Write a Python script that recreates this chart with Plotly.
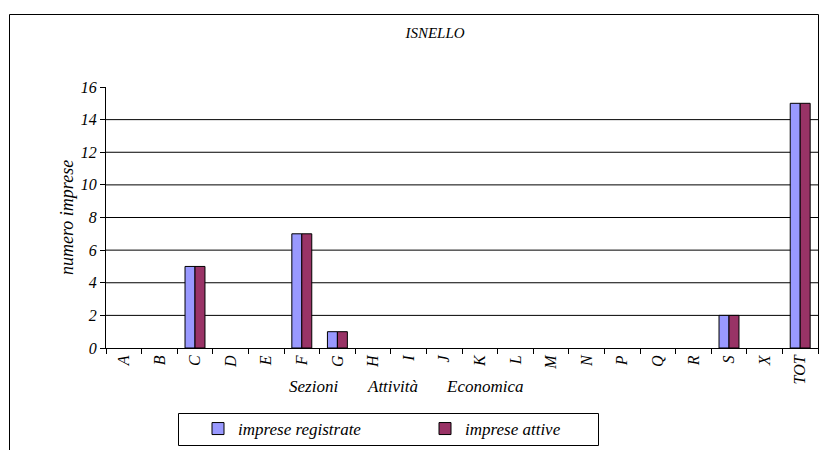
import plotly.graph_objects as go

categories = ["A", "B", "C", "D", "E", "F", "G", "H", "I", "J", "K", "L", "M", "N", "P", "Q", "R", "S", "X", "TOT"]
imprese_registrate = [0, 0, 5, 0, 0, 7, 1, 0, 0, 0, 0, 0, 0, 0, 0, 0, 0, 2, 0, 15]
imprese_attive = [0, 0, 5, 0, 0, 7, 1, 0, 0, 0, 0, 0, 0, 0, 0, 0, 0, 2, 0, 15]
y_ticks = [0, 2, 4, 6, 8, 10, 12, 14, 16]

OFF = 8  # default page body margin
PAGE_W, PAGE_H = 829, 450
W, H = PAGE_W - OFF, PAGE_H - OFF
# plot area in page px
L, R, T, B = 106, 818, 87, 348


def px(x):
    return (x - L) / (R - L)


def py(y):
    return (B - y) / (B - T)


FONT = "Liberation Serif"


def f(size):
    return dict(family=FONT, size=size, color="black")


def it(s):
    return "<i>" + s + "</i>"


def nz(vals):
    # zero-height bars are not drawn (no outline stub on the axis)
    return [v if v else None for v in vals]


fig = go.Figure()
fig.add_trace(go.Bar(x=categories, y=nz(imprese_registrate), name=it("imprese registrate"),
                     marker=dict(color="#9999FF", line=dict(color="black", width=1))))
fig.add_trace(go.Bar(x=categories, y=nz(imprese_attive), name=it("imprese attive"),
                     marker=dict(color="#993366", line=dict(color="black", width=1))))

shapes = []
for v in y_ticks[1:-1]:
    shapes.append(dict(type="line", xref="paper", yref="y", x0=0, x1=1, y0=v, y1=v,
                       line=dict(color="black", width=1), layer="below"))
# outer frame
shapes.append(dict(type="line", xref="paper", yref="paper", x0=px(9.5), x1=px(9.5), y0=py(14.5), y1=py(452),
                   line=dict(color="black", width=1)))
shapes.append(dict(type="line", xref="paper", yref="paper", x0=px(9.5), x1=px(818.5), y0=py(14.5), y1=py(14.5),
                   line=dict(color="black", width=1)))
shapes.append(dict(type="line", xref="paper", yref="paper", x0=px(818.5), x1=px(818.5), y0=py(14.5), y1=py(350),
                   line=dict(color="black", width=1)))
# legend box
shapes.append(dict(type="rect", xref="paper", yref="paper", x0=px(178.5), x1=px(598.5), y0=py(413.5), y1=py(445.5),
                   line=dict(color="black", width=1)))

annotations = [
    dict(text=it("Sezioni"), x=px(313), y=py(386), xref="paper", yref="paper", showarrow=False,
         xanchor="center", yanchor="middle", font=f(17)),
    dict(text=it("Attività"), x=px(392), y=py(386), xref="paper", yref="paper", showarrow=False,
         xanchor="center", yanchor="middle", font=f(17)),
    dict(text=it("Economica"), x=px(484), y=py(386), xref="paper", yref="paper", showarrow=False,
         xanchor="center", yanchor="middle", font=f(17)),
    dict(text=it("numero imprese"), x=px(67), y=py(218), xref="paper", yref="paper", showarrow=False,
         xanchor="center", yanchor="middle", textangle=-90, font=f(18)),
]

fig.update_layout(
    width=W, height=H,
    font=dict(family=FONT, color="black"),
    margin=dict(l=L - OFF, r=PAGE_W - R, t=T - OFF, b=PAGE_H - B, autoexpand=False),
    paper_bgcolor="white", plot_bgcolor="white",
    barmode="group", bargap=0.44, bargroupgap=0,
    title=dict(text=it("ISNELLO"), x=(435 - OFF) / W, y=1 - (33 - OFF) / H, xanchor="center", yanchor="middle",
               font=f(15)),
    xaxis=dict(type="category", showline=True, linecolor="black", linewidth=1,
               ticks="outside", ticklen=5, tickcolor="black", tickson="boundaries",
               tickangle=-90, showgrid=False, tickfont=f(16),
               categoryorder="array", categoryarray=categories,
               tickvals=categories, ticktext=[it(c) for c in categories]),
    yaxis=dict(range=[0, 16], tickvals=y_ticks, ticktext=[it(str(v)) for v in y_ticks],
               showline=True, linecolor="black", linewidth=1,
               ticks="outside", ticklen=5, tickcolor="black", showgrid=False, zeroline=False,
               tickfont=f(16)),
    legend=dict(orientation="h", x=px(198), y=py(429), xanchor="left", yanchor="middle",
                bgcolor="rgba(0,0,0,0)", borderwidth=0, entrywidth=182, entrywidthmode="pixels",
                font=f(17)),
    shapes=shapes,
    annotations=annotations,
)

fig.write_html("out.html")
